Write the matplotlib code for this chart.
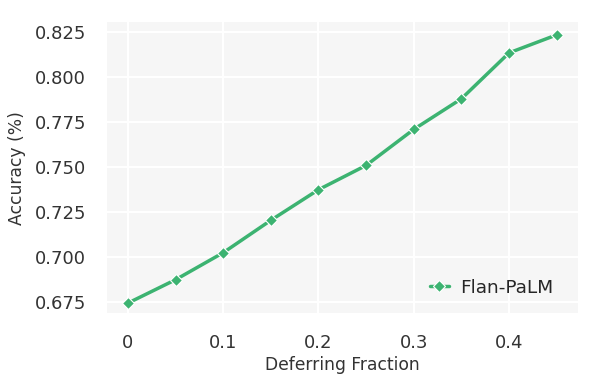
import matplotlib
matplotlib.use("Agg")
import matplotlib.pyplot as plt
import seaborn as sns

sns.set_style("whitegrid", {"axes.facecolor": "#f6f6f6", "grid.color": "white"})
plt.rcParams['font.family'] = ['DejaVu Sans']

defer_frac = [0.0, 0.05, 0.10, 0.15, 0.20, 0.25, 0.30, 0.35, 0.40, 0.45]
accuracy = [0.6745, 0.6875, 0.7025, 0.7205, 0.7375, 0.751, 0.771, 0.788, 0.8135, 0.8235]
xticks = [0, 0.1, 0.2, 0.3, 0.4]
xtick_labels = ["0", "0.1", "0.2", "0.3", "0.4"]
yticks = [0.675, 0.700, 0.725, 0.750, 0.775, 0.800, 0.825]

fig, ax = plt.subplots(figsize=(5.91, 3.81), dpi=100)
ax.plot(defer_frac, accuracy, color="#3cb371", linewidth=2.5, marker="D",
        markersize=6, markeredgecolor="white", markeredgewidth=0.8, label="Flan-PaLM")

ax.set_xticks(xticks)
ax.set_xticklabels(xtick_labels)
ax.set_yticks(yticks)
ax.set_yticklabels(["%.3f" % v for v in yticks])
ax.set_xlim(-0.022, 0.4724)
ax.set_ylim(0.6689, 0.8306)
ax.tick_params(labelsize=13, colors="#333333", length=0)
ax.tick_params(axis="y", pad=15)
ax.tick_params(axis="x", pad=15)
ax.grid(True, color="white", linewidth=1.6)
for s in ax.spines.values():
    s.set_visible(False)

ax.set_xlabel("Deferring Fraction", fontsize=12.3, color="#333333", labelpad=3)
ax.set_ylabel("Accuracy (%)", fontsize=12.3, color="#333333", labelpad=6)
ax.legend(loc="lower right", frameon=False, fontsize=13.3, handlelength=1.0,
          handletextpad=0.6, bbox_to_anchor=(0.982, 0.0))

fig.subplots_adjust(left=0.181, right=0.978, top=0.942, bottom=0.178)
fig.savefig("out.png", dpi=100)
